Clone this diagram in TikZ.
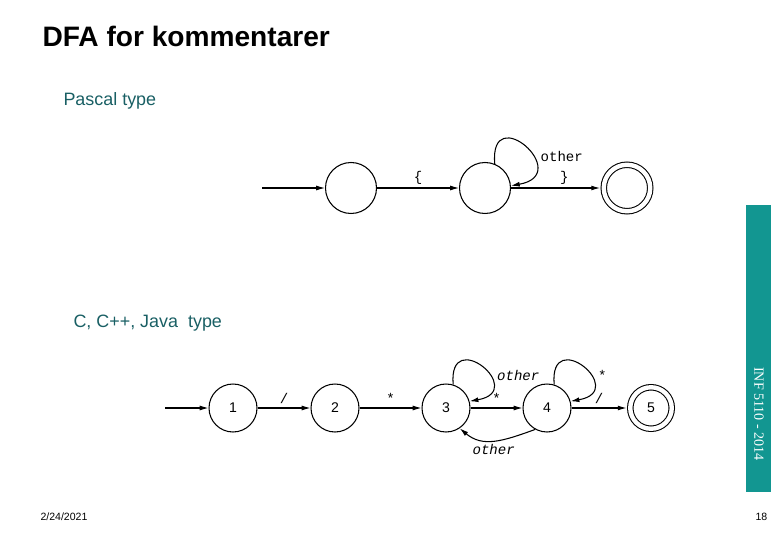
\documentclass[tikz,border=0pt]{standalone}
\usepackage{fontspec}
\setmainfont{Liberation Sans}
\newfontfamily\monofont{Liberation Mono}
\newfontfamily\serifont{Liberation Serif}
\usepackage{tikz}
\usetikzlibrary{arrows.meta}
\definecolor{bannerteal}{RGB}{18,150,145}
\definecolor{typeteal}{RGB}{25,95,100}

\begin{document}
\begin{tikzpicture}[
        x=0.02cm, y=-0.02cm,
        >={Latex[length=5pt,width=2.8pt]},
        line width=0.6pt,
        % Base style for the DFA states
        dfa_state/.style={
            draw,
            circle,
            inner sep=0pt,
            minimum size=0.96cm,
            font=\fontsize{8}{9}\selectfont
        },
        big_state/.style={dfa_state, minimum size=1.02cm},
        % Accepting states get the double ring
        accept_state/.style={dfa_state, double, double distance=2.5pt, outer sep=2.1pt},
        % Labels on the transitions
        edge_lbl/.style={font=\monofont\fontsize{8}{9}\selectfont, inner sep=2pt},
        loop_lbl/.style={edge_lbl, right, xshift=2.5pt, pos=0.62},
        type_text/.style={anchor=base west, inner sep=0pt, text=typeteal, font=\fontsize{10.2}{12}\selectfont},
        foot_text/.style={anchor=base west, inner sep=0pt, font=\fontsize{6}{7}\selectfont}
    ]
    \useasboundingbox (0,0) rectangle (780,540);

    % 1. Title, captions and footer
    \node[anchor=base west, inner sep=0pt, font=\bfseries\fontsize{16}{18}\selectfont] (title) at (42,47) {DFA for kommentarer};
    \node[type_text] (pascal) at (63,106) {Pascal type};
    \node[type_text] (cjava) at (73,327) {C, C++, Java\ \ type};
    \node[foot_text] (date) at (40,520) {2/24/2021};
    \node[foot_text] (page) at (755,520) {18};

    % 2. Side banner
    \fill[bannerteal] (746,205) rectangle (771,492);
    \node[rotate=-90, text=white, font=\serifont\fontsize{8}{9}\selectfont] (banner) at (759,414) {INF 5110 - 2014};

    % 3. Pascal type DFA
    \coordinate (p0) at (262,188);
    \node[big_state] (p1) at (351,188) {};
    \node[big_state] (p2) at (485,188) {};
    \node[accept_state, minimum size=0.93cm] (p3) at (627,188) {};

    \draw[->] (p0) -- (p1);
    \draw[->] (p1) -- node[edge_lbl, above] {\{} (p2);
    \draw[->] (p2) -- node[edge_lbl, above, pos=0.6] {\}} (p3);
    \draw[->] (p2.68) .. controls +(95:1.3cm) and +(10:1.3cm) .. (p2.5)
        node[loop_lbl] {other};

    % 4. C, C++, Java type DFA
    \coordinate (c0) at (165,408);
    \node[dfa_state] (c1) at (233,408) {1};
    \node[dfa_state] (c2) at (335,408) {2};
    \node[dfa_state] (c3) at (446,408) {3};
    \node[dfa_state] (c4) at (547,408) {4};
    \node[accept_state, minimum size=0.83cm] (c5) at (651,408) {5};

    \draw[->] (c0) -- (c1);
    \draw[->] (c1) -- node[edge_lbl, above] {/} (c2);
    \draw[->] (c2) -- node[edge_lbl, above] {*} (c3);
    \draw[->] (c3) -- node[edge_lbl, above] {*} (c4);
    \draw[->] (c4) -- node[edge_lbl, above] {/} (c5);

    % 5. Self loops and the way back from 4 to 3
    \draw[->] (c3.73) .. controls +(95:1.2cm) and +(10:1.2cm) .. (c3.16)
        node[loop_lbl] {\itshape other};
    \draw[->] (c4.73) .. controls +(95:1.2cm) and +(10:1.2cm) .. (c4.16)
        node[loop_lbl] {*};
    \draw[->] (c4.241) .. controls +(200:0.7cm) and +(-40:0.6cm) .. (c3.304)
        node[edge_lbl, below, pos=0.5] {\itshape other};

\end{tikzpicture}
\end{document}
